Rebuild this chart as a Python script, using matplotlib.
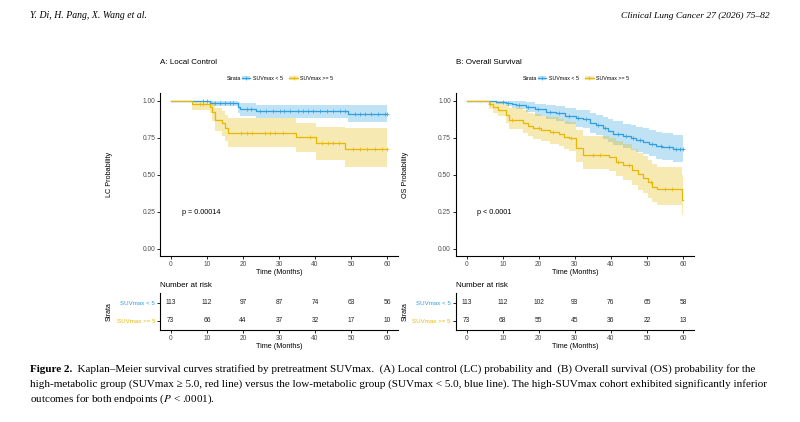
import numpy as np
import matplotlib
matplotlib.use("Agg")
import matplotlib.pyplot as plt
from matplotlib.patches import Patch
from matplotlib.lines import Line2D

plt.rcParams['font.family'] = ['Liberation Sans', 'DejaVu Sans']
plt.rcParams['mathtext.fontset'] = 'stix'

BLUE = "#2E9FDF"
YELLOW = "#E7B800"

# ---- data ----
groups = ["SUVmax < 5", "SUVmax >= 5"]
risk_times = [0, 10, 20, 30, 40, 50, 60]

# A: local control
lc_lo_t = [0, 10.9, 18.7, 19.3, 23.7, 49.1]
lc_lo_s = [1.0, 0.987, 0.955, 0.945, 0.93, 0.91]
lc_lo_up = [1.0, 1.0, 0.99, 0.985, 0.972, 0.97]
lc_lo_dn = [1.0, 0.962, 0.915, 0.895, 0.881, 0.854]
lc_lo_cens = [9, 10, 12.2, 13.6, 15, 16.4, 17.3, 21, 22.3, 24.6, 26.5, 28.3,
              30.2, 31.5, 33, 35.2, 36.6, 38, 39.5, 41.4, 43.2, 45, 46.8, 48.2,
              51, 52.4, 53.8, 55.6, 57.5, 59.3, 60]
lc_hi_t = [0, 5.8, 10.9, 11.5, 12.2, 14.1, 15.0, 15.9, 34.8, 40.3, 48.2]
lc_hi_s = [1.0, 0.978, 0.96, 0.926, 0.87, 0.848, 0.814, 0.784, 0.757, 0.713, 0.674]
lc_hi_up = [1.0, 1.0, 1.0, 0.99, 0.95, 0.93, 0.905, 0.885, 0.848, 0.825, 0.815]
lc_hi_dn = [1.0, 0.94, 0.915, 0.865, 0.795, 0.765, 0.725, 0.69, 0.656, 0.60, 0.551]
lc_hi_cens = [8, 9, 19.5, 21, 22.5, 26, 27.5, 29, 31, 38.5, 42, 43.5, 45,
              46.5, 50.5, 52.5, 54.5, 56.5, 58.5, 60]
lc_risk_lo = [113, 112, 97, 87, 74, 63, 56]
lc_risk_hi = [73, 66, 44, 37, 32, 17, 10]

# B: overall survival
os_lo_t = [0, 8.1, 10.9, 12.5, 13.6, 16.4, 19.1, 21.9, 24.7, 27.4, 30.2, 32.2,
           34.1, 36.0, 37.7, 39.3, 40.5, 43.3, 45.5, 47.0, 49.0, 50.6, 52.5,
           54.3, 57.1]
os_lo_s = [1.0, 0.993, 0.987, 0.978, 0.971, 0.96, 0.942, 0.926, 0.915, 0.897,
           0.881, 0.875, 0.848, 0.835, 0.814, 0.795, 0.775, 0.76, 0.746, 0.735,
           0.72, 0.708, 0.695, 0.686, 0.674]
os_lo_up = [1.0, 1.0, 1.0, 1.0, 0.997, 0.99, 0.98, 0.97, 0.962, 0.95, 0.94,
            0.935, 0.915, 0.905, 0.89, 0.875, 0.86, 0.845, 0.835, 0.825, 0.815,
            0.8, 0.79, 0.78, 0.77]
os_lo_dn = [1.0, 0.98, 0.966, 0.952, 0.942, 0.925, 0.9, 0.88, 0.865, 0.845,
            0.825, 0.815, 0.785, 0.77, 0.745, 0.72, 0.7, 0.68, 0.665, 0.655,
            0.64, 0.625, 0.61, 0.6, 0.59]
os_lo_cens = [10, 11.5, 14.5, 17, 19.8, 23, 25.5, 28.5, 31, 33, 36.5, 38.5,
              42, 44.3, 46.2, 48, 51.5, 54, 56, 58, 59.3, 60]
os_hi_t = [0, 6.2, 7.2, 8.6, 10.9, 11.8, 15.5, 17.0, 18.5, 20.5, 23.0, 25.5,
           27.0, 28.5, 30.4, 32.2, 39.6, 41.4, 43.3, 46.0, 47.5, 48.8, 50.2,
           51.5, 52.9, 59.8]
os_hi_s = [1.0, 0.978, 0.96, 0.94, 0.904, 0.87, 0.848, 0.83, 0.815, 0.8, 0.79,
           0.775, 0.757, 0.746, 0.68, 0.634, 0.62, 0.59, 0.566, 0.533, 0.505,
           0.477, 0.45, 0.42, 0.402, 0.33]
os_hi_up = [1.0, 1.0, 1.0, 0.99, 0.97, 0.95, 0.935, 0.92, 0.91, 0.9, 0.89,
            0.88, 0.865, 0.855, 0.8, 0.76, 0.75, 0.725, 0.705, 0.675, 0.65,
            0.625, 0.6, 0.57, 0.555, 0.5]
os_hi_dn = [1.0, 0.945, 0.92, 0.895, 0.85, 0.81, 0.78, 0.76, 0.74, 0.725,
            0.71, 0.695, 0.675, 0.66, 0.59, 0.54, 0.525, 0.49, 0.465, 0.43,
            0.4, 0.375, 0.345, 0.315, 0.3, 0.23]
os_hi_cens = [6.5, 12.5, 20, 24, 29, 35, 37, 42, 45, 51, 55, 57]
os_risk_lo = [113, 112, 102, 93, 76, 65, 58]
os_risk_hi = [73, 68, 55, 45, 36, 22, 13]

panels = [
    dict(title="A: Local Control", ylab="LC Probability", pval="p = 0.00014",
         curves=[(lc_lo_t, lc_lo_s, lc_lo_up, lc_lo_dn, lc_lo_cens, BLUE),
                 (lc_hi_t, lc_hi_s, lc_hi_up, lc_hi_dn, lc_hi_cens, YELLOW)],
         risk=[lc_risk_lo, lc_risk_hi], x0=160.0),
    dict(title="B: Overall Survival", ylab="OS Probability", pval="p < 0.0001",
         curves=[(os_lo_t, os_lo_s, os_lo_up, os_lo_dn, os_lo_cens, BLUE),
                 (os_hi_t, os_hi_s, os_hi_up, os_hi_dn, os_hi_cens, YELLOW)],
         risk=[os_risk_lo, os_risk_hi], x0=455.8),
]

W, H = 800, 422
fig = plt.figure(figsize=(8, 4.22), dpi=100)
TICK = "#4D4D4D"


def style(ax):
    for s in ["top", "right"]:
        ax.spines[s].set_visible(False)
    for s in ["left", "bottom"]:
        ax.spines[s].set_linewidth(0.8)
    ax.tick_params(length=2, width=0.6, labelsize=4.8, labelcolor=TICK, pad=1.5)


for p in panels:
    x0 = p["x0"]
    ax = fig.add_axes([x0 / W, 1 - 256.4 / H, 238 / W, 163.1 / H])
    for t, s, up, dn, cens, c in p["curves"]:
        tt = np.append(t, 60)
        ss = np.append(s, s[-1])
        ax.fill_between(tt, np.append(dn, dn[-1]), np.append(up, up[-1]),
                        step="post", color=c, alpha=0.3, lw=0)
        ax.step(tt, ss, where="post", color=c, lw=0.9)
        idx = np.searchsorted(t, cens, side="right") - 1
        ax.plot(cens, np.array(s)[idx], ls="none", marker="+", ms=2.6,
                mew=0.5, color=c)
    ax.set_xlim(-3, 63)
    ax.set_ylim(-0.05, 1.05)
    ax.set_xticks(risk_times)
    ax.set_yticks([0, 0.25, 0.5, 0.75, 1.0])
    ax.set_yticklabels(["0.00", "0.25", "0.50", "0.75", "1.00"])
    style(ax)
    ax.set_xlabel("Time (Months)", fontsize=5.2, labelpad=0.5)
    ax.set_ylabel(p["ylab"], fontsize=5.2)
    ax.yaxis.set_label_coords(-0.197, 0.5)
    ax.text(3, 0.245, p["pval"], fontsize=5.2, va="center")

    fig.text(x0 / W, 1 - 62 / H, p["title"], fontsize=5.8, va="center")
    fig.text((x0 + 66.7) / W, 1 - 78.3 / H, "Strata", fontsize=3.8, va="center")
    handles = [(Patch(facecolor=c, alpha=0.3, lw=0),
                Line2D([], [], color=c, lw=0.9, marker="+", ms=2.6, mew=0.5))
               for c in [BLUE, YELLOW]]
    fig.legend(handles, groups, loc="center left",
               bbox_to_anchor=((x0 + 82) / W, 1 - 78.3 / H), ncol=2,
               frameon=False, fontsize=3.8, handlelength=1.6, handleheight=0.9,
               columnspacing=1.2, handletextpad=0.5, borderpad=0, borderaxespad=0)

    # risk table
    rax = fig.add_axes([x0 / W, 1 - 330 / H, 238 / W, 37.3 / H])
    for row, (vals, c) in enumerate(zip(p["risk"], [BLUE, YELLOW])):
        for tm, v in zip(risk_times, vals):
            rax.text(tm, 2 - row, str(v), fontsize=4.8, ha="center",
                     va="center", color="#222222")
    rax.set_xlim(-3, 63)
    rax.set_ylim(0.5, 2.57)
    rax.set_xticks(risk_times)
    rax.set_yticks([2, 1])
    rax.set_yticklabels(groups)
    style(rax)
    for lab, c in zip(rax.get_yticklabels(), [BLUE, YELLOW]):
        lab.set_color(c)
        lab.set_fontsize(4.4)
    rax.set_xlabel("Time (Months)", fontsize=5.2, labelpad=0.5)
    rax.set_ylabel("Strata", fontsize=5.0)
    rax.yaxis.set_label_coords(-0.197, 0.5)
    rax.text(0, 1.206, "Number at risk", transform=rax.transAxes,
             fontsize=5.8, va="center")

# page header and caption
serif = ['Liberation Serif', 'DejaVu Serif']
fig.text(30 / W, 1 - 16 / H, "Y. Di, H. Pang, X. Wang et al.", family=serif,
         style="italic", fontsize=7.0, va="center")
fig.text(770 / W, 1 - 16 / H, "Clinical Lung Cancer 27 (2026) 75–82",
         family=serif, style="italic", fontsize=6.8, va="center", ha="right")

cap = [
    ("Figure 2.", "  Kaplan–Meier survival curves stratified by pretreatment SUVmax.  (A) Local control (LC) probability and  (B) Overall survival (OS) probability for the"),
    ("", "high-metabolic group (SUVmax ≥ 5.0, red line) versus the low-metabolic group (SUVmax < 5.0, blue line). The high-SUVmax cohort exhibited significantly inferior"),
    ("", "outcomes for both endpoints ($P$ < .0001)."),
]
ys = [369, 384, 399]
fig.canvas.draw()
r = fig.canvas.get_renderer()
for (b, t), y in zip(cap, ys):
    x = 30 / W
    if b:
        tb = fig.text(x, 1 - y / H, b, family=serif, weight="bold",
                      fontsize=8.0, va="center")
        bb = tb.get_window_extent(renderer=r)
        x = bb.x1 / W
    fig.text(x, 1 - y / H, t, family=serif, fontsize=8.0, va="center")

fig.savefig("out.png", dpi=100, facecolor="white")
